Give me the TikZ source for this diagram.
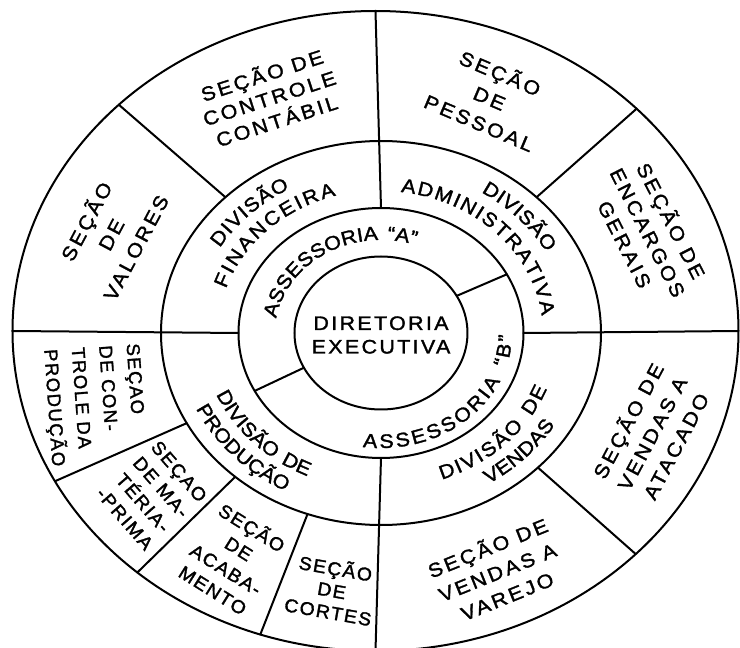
\documentclass[tikz,border=0pt]{standalone}
\usepackage{fontspec}
\usetikzlibrary{decorations.text}
\newfontfamily\lblfam[FakeStretch=1.1,LetterSpace=14,FakeBold=1.6]{Liberation Sans}
\newfontfamily\cenfam[FakeStretch=1.1,LetterSpace=12,FakeBold=1.6]{Liberation Sans}
\newfontfamily\vfam[FakeStretch=1.0,LetterSpace=8,FakeBold=1.6]{Liberation Sans}
\newfontfamily\nfam[FakeStretch=1.05,LetterSpace=8,FakeBold=1.6]{Liberation Sans}
\newcommand\ringtext[4]{%
  \pgfmathsetmacro\myrx{1.14*#1}%
  \path[decorate,decoration={text along path,
      text={|\lblfam\fontsize{19.5pt}{22pt}\selectfont|#4},
      text align=fit to path}]
    (#2:\myrx pt and #1pt) arc[start angle=#2,end angle=#3,x radius=\myrx pt,y radius=#1pt];%
}
\begin{document}
\begin{tikzpicture}[x=1pt,y=1pt,
  ln/.style={line width=2pt,line cap=round},
  lab/.style={font={\lblfam\fontsize{19.5pt}{#1}\selectfont},align=center,inner sep=0pt},
  nlab/.style={font={\nfam\fontsize{18.5pt}{#1}\selectfont},align=center,inner sep=0pt}]
\useasboundingbox (-381,-315) rectangle (359,333);
\clip (-381,-315) rectangle (359,333);
\fill[white] (-381,-315) rectangle (359,333);
% rings
\draw[ln] (0,0) ellipse[x radius=86.5pt,y radius=76.5pt];
\draw[ln] (0,0) ellipse[x radius=142.5pt,y radius=125pt];
\draw[ln] (0,0) ellipse[x radius=220pt,y radius=192pt];
\draw[ln] (-5.5,2) ellipse[x radius=363pt,y radius=320pt];
% quadrant lines
\foreach \a in {0,90,180,270}
  \draw[ln] (\a:142.5pt and 125pt) -- ([shift={(-5.5,2)}]\a:363pt and 320pt);
% section dividers
\foreach \a/\b in {45/44,135/135,315.5/315.8,208/208,228.5/229,250.5/251.5}
  \draw[ln] (\a:220pt and 192pt) -- ([shift={(-5.5,2)}]\b:363pt and 320pt);
% assessoria dividers
\foreach \a/\b in {29/28,207/207.6}
  \draw[ln] (\a:86.5pt and 76.5pt) -- (\b:142.5pt and 125pt);
% centre
\node[font={\cenfam\fontsize{19.5pt}{23.5pt}\selectfont},align=center,inner sep=0pt] (dir) at (0,-2) {DIRETORIA\\EXECUTIVA};
% outer sections
\node[lab=24pt,rotate=18] (scc) at (-112,236) {SEÇÃO DE\\CONTROLE\\CONTÁBIL};
\node[lab=27pt,rotate=-23] (sp) at (109,236) {SEÇÃO\\DE\\PESSOAL};
\node[lab=26pt,rotate=-63] (seg) at (268,101) {SEÇÃO DE\\ENCARGOS\\GERAIS};
\node[lab=27pt,rotate=62] (sva) at (270,-100) {SEÇÃO DE\\VENDAS A\\ATACADO};
\node[lab=26pt,rotate=22] (svv) at (116,-238) {SEÇÃO DE\\VENDAS A\\VAREJO};
\node[nlab=22pt,rotate=-10] (sco) at (-49,-256) {SEÇÃO\\DE\\CORTES};
\node[nlab=24.5pt,rotate=-32] (sac) at (-148,-225) {SEÇÃO\\DE\\ACABA-\\MENTO};
\node[nlab=24pt,rotate=-49] (smp) at (-229,-162) {SEÇAO\\DE MA-\\TÉRIA-\\-PRIMA};
\node[font={\vfam\fontsize{18.5pt}{27.5pt}\selectfont},inner sep=0pt,rotate=-86,align=left] (scp) at (-287,-72) {SEÇAO\\DE CON-\\TROLE DA\\PRODUÇÃO};
\node[lab=28pt,rotate=62] (sv) at (-271,99) {SEÇÃO\\DE\\VALORES};
% ring texts
\ringtext{165}{149}{119}{DIVISÃO}
\ringtext{143}{162}{106}{FINANCEIRA}
\ringtext{166}{58}{29}{DIVISÃO}
\ringtext{142}{83}{7}{ADMINISTRATIVA}
\ringtext{93}{171}{71}{ASSESSORIA “A”}
\ringtext{115}{262}{359}{ASSESSORIA “B”}
\ringtext{157}{203}{245}{DIVISÃO DE}
\ringtext{179}{205}{241}{PRODUÇÃO}
\ringtext{156}{290}{339}{DIVISÃO DE}
\ringtext{178}{302}{329}{VENDAS}
\end{tikzpicture}
\end{document}
